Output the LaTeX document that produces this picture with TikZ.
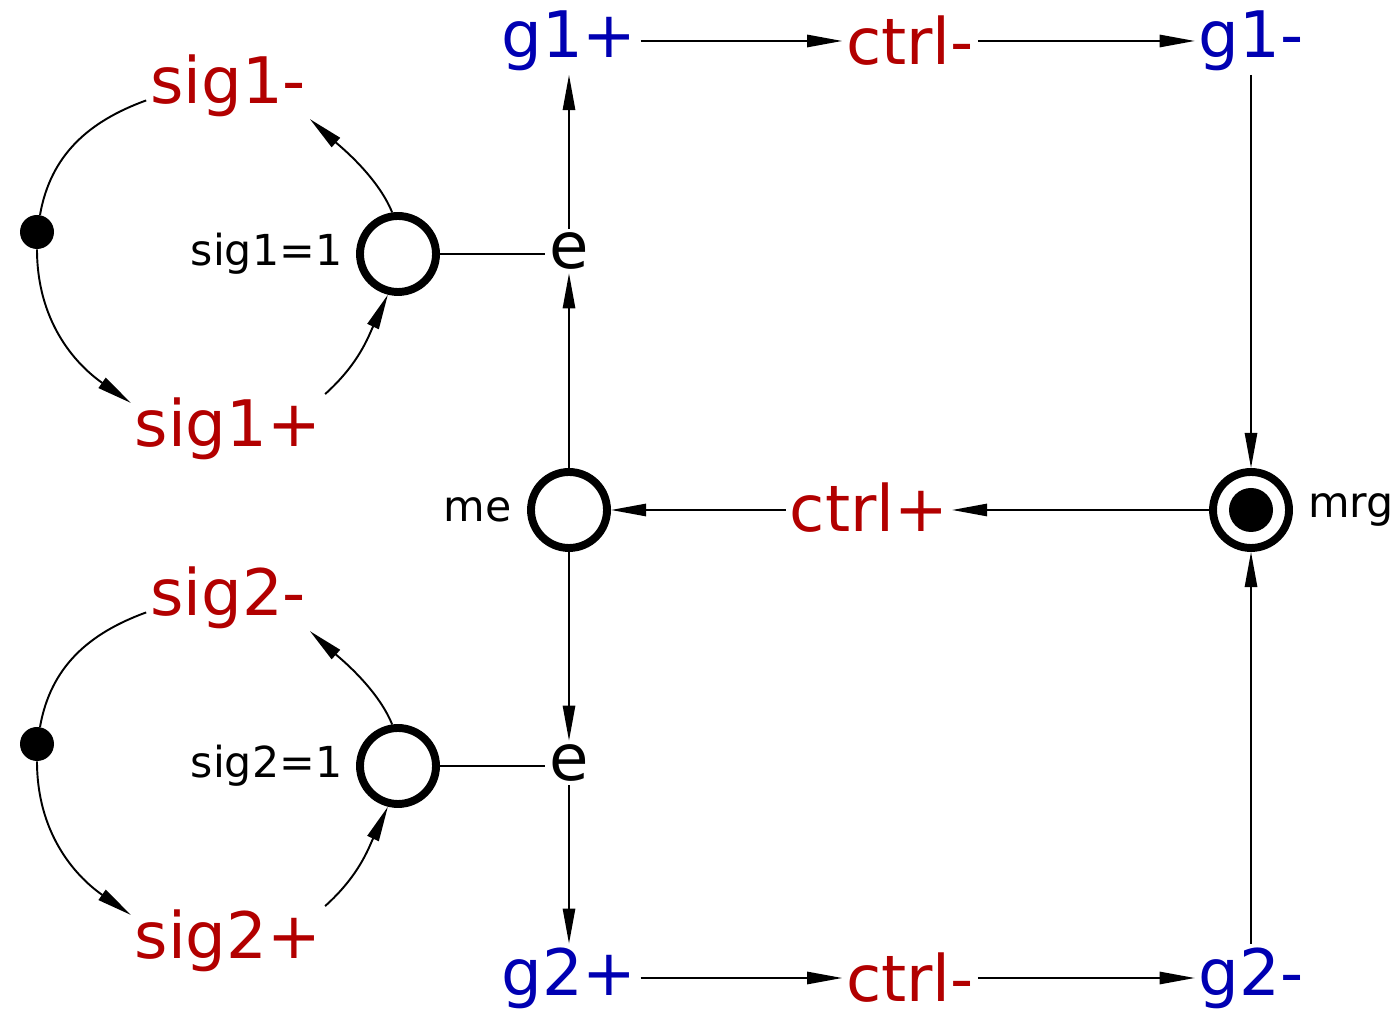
\documentclass[tikz,border=0pt]{standalone}
\usepackage{fontspec}
\setmainfont{DejaVu Sans}
\usetikzlibrary{arrows.meta,positioning}
\definecolor{sigred}{RGB}{178,0,0}
\definecolor{gblue}{RGB}{0,0,178}
\begin{document}
\begin{tikzpicture}[
        trans/.style={inner sep=2pt,font=\fontsize{36.5}{42}\selectfont},
        place/.style={circle,draw,line width=4.5pt,minimum size=1.52cm,inner sep=0pt},
        dot/.style={circle,fill,minimum size=0.68cm,inner sep=0pt},
        lab/.style={inner sep=0pt,font=\fontsize{24.3}{29}\selectfont},
        arc/.style={line width=1.1pt,-{Triangle[length=20pt,width=7pt]}}]
            \useasboundingbox (0,0) rectangle (27.98,20.3);
            % signal loops
            \foreach \i/\y in {1/15.22,2/4.98} {
                \node[place] (p\i) at (7.96,\y) {};
                \node[lab,left=0.27cm of p\i] (p\i lab) {sig\i=1};
                \node[dot] (dot\i) at (0.74,\y+0.44) {};
                \node[trans,sigred] (sig\i m) at (4.56,\y+3.36) {sig\i-};
                \node[trans,sigred] (sig\i p) at (4.56,\y-3.5) {sig\i+};
                \node[trans] (e\i) at (11.38,\y+0.06) {e};
                \draw[arc,-] (dot\i) to[out=80,in=-160] (sig\i m.-170);
                \draw[arc] (dot\i) to[out=-90,in=145] (sig\i p.165);
                \draw[arc] (sig\i p.north east) to[out=42,in=-115] (p\i.-104);
                \draw[arc] (p\i.98) to[out=112,in=-42,looseness=0.8] (sig\i m.-22);
                \draw[arc,-] (p\i) -- (p\i -| e\i.west);
            }
            % main ring
            \node[place] (me) at (11.38,10.1) {};
            \node[lab,left=0.3cm of me] (melab) {me};
            \node[place] (mrg) at (25.02,10.1) {};
            \fill (mrg) circle (0.44);
            \node[lab,right=0.3cm of mrg] (mrglab) {mrg};
            \node[trans,sigred] (ctrlp) at (17.38,10.14) {ctrl+};
            \node[trans,gblue] (g1p) at (11.38,19.48) {g1+};
            \node[trans,sigred] (ctrl1) at (18.2,19.48) {ctrl-};
            \node[trans,gblue] (g1m) at (25.02,19.48) {g1-};
            \node[trans,gblue] (g2p) at (11.38,0.74) {g2+};
            \node[trans,sigred] (ctrl2) at (18.2,0.74) {ctrl-};
            \node[trans,gblue] (g2m) at (25.02,0.74) {g2-};
            \draw[arc] (me) -- (e1);
            \draw[arc] (e1) -- (g1p);
            \draw[arc] (g1p) -- (ctrl1);
            \draw[arc] (ctrl1) -- (g1m);
            \draw[arc] (g1m) -- (mrg);
            \draw[arc] (me) -- (e2);
            \draw[arc] (e2) -- (g2p);
            \draw[arc] (g2p) -- (ctrl2);
            \draw[arc] (ctrl2) -- (g2m);
            \draw[arc] (g2m) -- (mrg);
            \draw[arc] (mrg) -- (mrg -| ctrlp.east);
            \draw[arc] (ctrlp.west |- me) -- (me);
        \end{tikzpicture}
\end{document}
